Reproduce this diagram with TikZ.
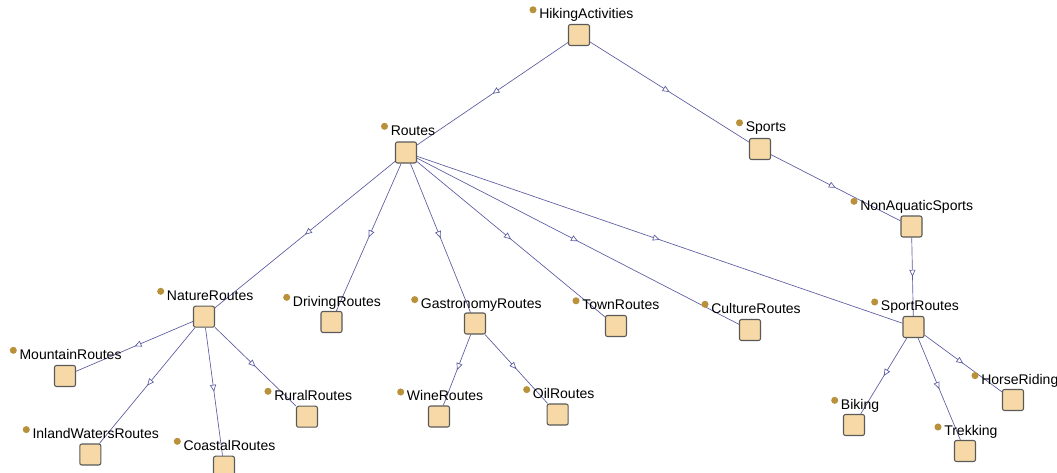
\documentclass[tikz,border=0pt]{standalone}
\usepackage{fontspec}
\setmainfont{Liberation Sans}
\usetikzlibrary{arrows.meta,decorations.markings}
\pgfdeclarelayer{bg}
\pgfsetlayers{bg,main}
\definecolor{boxfill}{HTML}{F6D9A6}
\definecolor{boxline}{HTML}{5A5A5A}
\definecolor{dotcol}{HTML}{B8913A}
\definecolor{edgecol}{HTML}{5C5CA0}
\tikzset{
  clsbox/.style={draw=boxline, fill=boxfill, line width=0.8pt, rounded corners=1.5pt,
    minimum size=15.75pt, inner sep=0pt},
  clslab/.style={anchor=base west, inner sep=0pt, font=\fontsize{10.5}{12}\selectfont},
  clsdot/.style={circle, fill=dotcol, minimum size=5.3pt, inner sep=0pt},
  isa/.style={draw=edgecol, line width=0.5pt, postaction={decorate},
    decoration={markings, mark=at position 0.5 with
      {\arrow{Triangle[length=5.2pt, width=4.6pt, fill=white, line width=0.5pt]}}}}
}
\newcommand\owlclass[6]{%
  \node[clsbox] (#1) at (#2,#3) {};
  \node[clsdot] (#1-dot) at ({#4-6},{#5-8.7}) {};
  \node[clslab] (#1-lab) at (#4,#5) {#6};
}
\begin{document}
\begin{tikzpicture}[x=0.75pt,y=-0.75pt]
\useasboundingbox (0,0) rectangle (1057,472);
\owlclass{hiking}{579}{35}{539}{18.5}{HikingActivities}
\owlclass{routes}{406}{152.5}{390.5}{135}{Routes}
\owlclass{sports}{760}{149}{745.5}{131.5}{Sports}
\owlclass{nonaq}{911.5}{226.5}{860}{210}{NonAquaticSports}
\owlclass{nature}{204}{316.7}{166.7}{300}{NatureRoutes}
\owlclass{driving}{331.5}{322}{292.7}{306}{DrivingRoutes}
\owlclass{gastro}{475}{323.5}{420.7}{308.3}{GastronomyRoutes}
\owlclass{town}{616}{326}{582}{309.5}{TownRoutes}
\owlclass{culture}{750}{330}{711}{313}{CultureRoutes}
\owlclass{sportr}{913.5}{327}{880.7}{310.7}{SportRoutes}
\owlclass{mountain}{65}{376}{19.3}{359}{MountainRoutes}
\owlclass{rural}{307}{416.7}{274}{400}{RuralRoutes}
\owlclass{wine}{439}{416.5}{406.7}{400.7}{WineRoutes}
\owlclass{oil}{557.7}{414.5}{532.7}{398.3}{OilRoutes}
\owlclass{inland}{90.3}{454.5}{32.3}{438.3}{InlandWatersRoutes}
\owlclass{coastal}{224}{466.7}{183.3}{450}{CoastalRoutes}
\owlclass{biking}{854}{425}{840.7}{409}{Biking}
\owlclass{trekking}{965}{451}{944}{435.7}{Trekking}
\owlclass{horse}{1013}{400}{981}{384.3}{HorseRiding}
\begin{pgfonlayer}{bg}
\draw[isa] (hiking) -- (routes);
\draw[isa] (hiking) -- (sports);
\draw[isa] (routes) -- (nature);
\draw[isa] (routes) -- (driving);
\draw[isa] (routes) -- (gastro);
\draw[isa] (routes) -- (town);
\draw[isa] (routes) -- (culture);
\draw[isa] (routes) -- (sportr);
\draw[isa] (sports) -- (nonaq);
\draw[isa] (nonaq) -- (sportr);
\draw[isa] (nature) -- (mountain);
\draw[isa] (nature) -- (inland);
\draw[isa] (nature) -- (coastal);
\draw[isa] (nature) -- (rural);
\draw[isa] (gastro) -- (wine);
\draw[isa] (gastro) -- (oil);
\draw[isa] (sportr) -- (biking);
\draw[isa] (sportr) -- (trekking);
\draw[isa] (sportr) -- (horse);
\end{pgfonlayer}
\end{tikzpicture}
\end{document}
